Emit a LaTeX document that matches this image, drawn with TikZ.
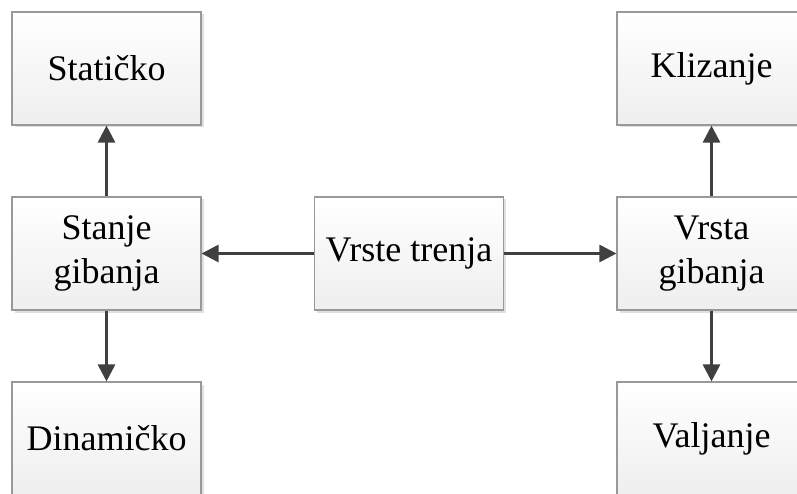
\documentclass[tikz,border=0pt]{standalone}
\usepackage{fontspec}
\setmainfont{Liberation Serif}
\usepackage{tikz}
\usetikzlibrary{arrows.meta,shadows}

\begin{document}
\begin{tikzpicture}[x=1pt,y=-1pt,
  box node/.style={rectangle,draw=gray!80,line width=1.1pt,
    top color=white,bottom color=gray!13,
    drop shadow={shadow xshift=2.5pt,shadow yshift=-2.5pt,fill=gray!40,opacity=0.6},
    minimum width=189pt,minimum height=113pt,inner sep=0pt,
    align=center,font=\fontsize{36}{44}\selectfont},
  link/.style={draw=black!75,line width=2.8pt,
    -{Triangle[length=17pt,width=17pt]}}]

  \useasboundingbox (0,0) rectangle (797,494);

  \node[box node] (vrste) at (409,253.5) {Vrste trenja};

  \node[box node] (stanje) at (106.5,253.5) {Stanje\\gibanja};
  \node[box node] (staticko) at (106.5,68.5) {Statičko};
  \node[box node] (dinamicko) at (106.5,438.5) {Dinamičko};

  \node[box node] (vrsta) at (711.5,253.5) {Vrsta\\gibanja};
  \node[box node] (klizanje) at (711.5,68.5) {Klizanje};
  \node[box node] (valjanje) at (711.5,438.5) {Valjanje};

  \draw[link] (vrste) -- (stanje);
  \draw[link] (vrste) -- (vrsta);
  \draw[link] (stanje) -- (staticko);
  \draw[link] (stanje) -- (dinamicko);
  \draw[link] (vrsta) -- (klizanje);
  \draw[link] (vrsta) -- (valjanje);

\end{tikzpicture}
\end{document}
